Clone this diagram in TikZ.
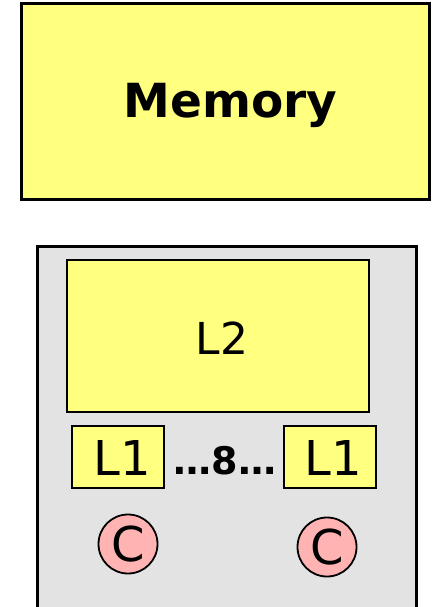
\documentclass[tikz,border=0pt]{standalone}
\usepackage{fontspec}
\setmainfont{DejaVu Sans}
\definecolor{memyel}{RGB}{255,255,128}
\definecolor{chipgray}{RGB}{227,227,227}
\definecolor{corepink}{RGB}{255,179,179}
\begin{document}
\begin{tikzpicture}[x=1pt,y=-1pt,
  ybox/.style={draw=black,line width=2.5pt,fill=memyel,inner sep=0pt},
  core/.style={circle,draw=black,line width=1.8pt,fill=corepink,minimum size=59pt,inner sep=0pt,font=\fontsize{48}{50}\selectfont},
]
\useasboundingbox (0,0) rectangle (434,607);
\begin{scope}
\clip (0,0) rectangle (434,607);
\node[draw=black,line width=2.5pt,fill=chipgray,minimum width=379pt,minimum height=400pt,inner sep=0pt,anchor=north west] (chip) at (36,245) {};
\end{scope}
\node[ybox,line width=3pt,minimum width=408pt,minimum height=196pt] (mem) at (225.5,101.5) {};
\node[inner sep=0pt] (memtext) at (230.5,105) {\fontsize{47}{50}\selectfont\bfseries Memory};
\node[ybox,minimum width=302pt,minimum height=152pt] (l2) at (218,336) {};
\node[inner sep=0pt] (l2text) at (222,338) {\fontsize{44}{46}\selectfont L2};
\node[ybox,minimum width=92pt,minimum height=62pt] (l1a) at (118,457) {};
\node[inner sep=0pt] (l1atext) at (122,458) {\fontsize{48}{50}\selectfont L1};
\node[ybox,minimum width=92pt,minimum height=62pt] (l1b) at (330,457) {};
\node[inner sep=0pt] (l1btext) at (333,458) {\fontsize{48}{50}\selectfont L1};
\node[inner sep=0pt] (dots) at (225,461) {\fontsize{38}{40}\selectfont\bfseries …8…};
\node[core] (c1) at (128,544) {C};
\node[core] (c2) at (327,547) {C};
\end{tikzpicture}
\end{document}
